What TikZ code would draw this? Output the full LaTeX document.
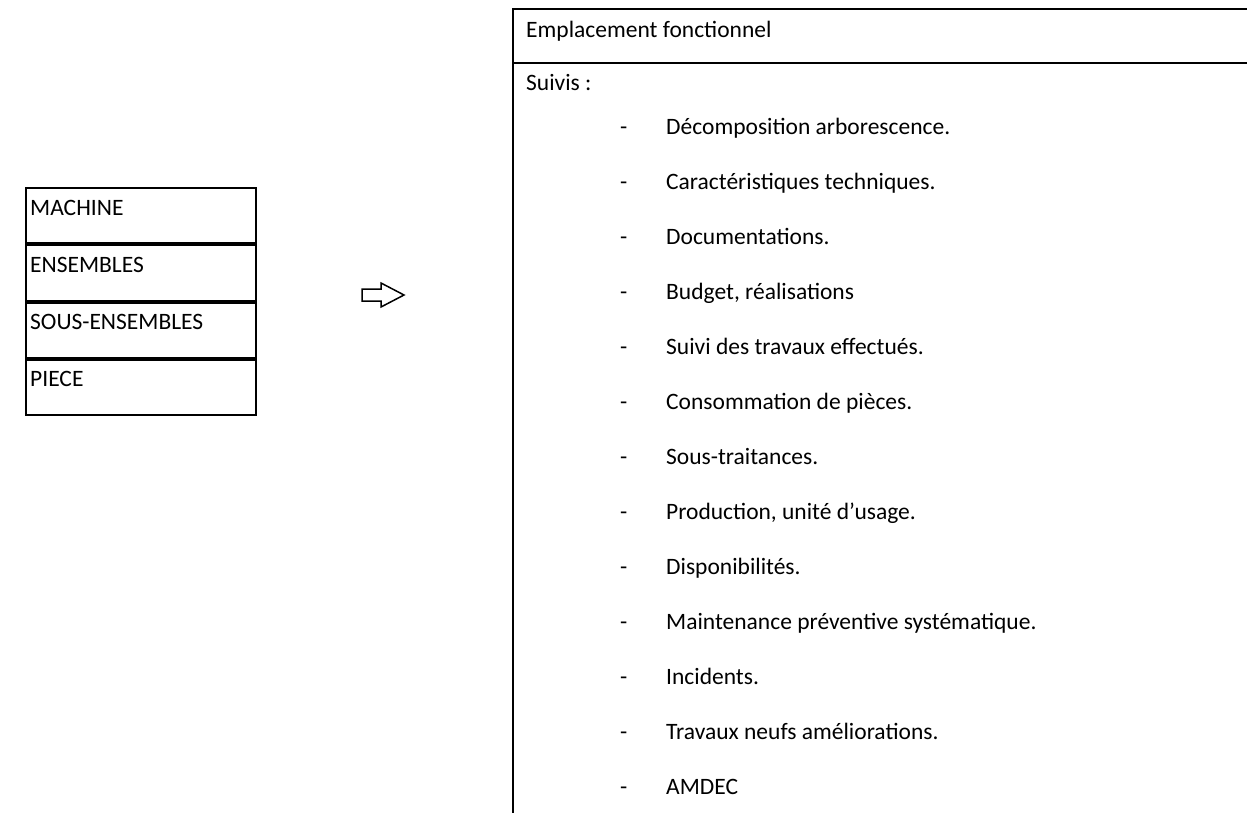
\documentclass[tikz,border=0pt]{standalone}
\usepackage{fontspec}
\setmainfont{Carlito}
\begin{document}
\begin{tikzpicture}[x=1pt,y=-1pt,
  rule/.style={draw=black,line width=2pt},
  cell/.style={rule,rectangle,anchor=north west,minimum width=230pt,minimum height=55.25pt,inner sep=0pt},
  lbl/.style={anchor=base west,inner sep=0pt,font=\fontsize{23.5}{28}\selectfont},
  hollowarrow/.style={draw=black,line width=1.5pt,line join=miter}]
\useasboundingbox (0,0) rectangle (1247,813);

% hierarchy table on the left
\node[cell] (machine) at (25,187) {};
\node[cell] (ensembles) at (machine.south west) {};
\node[cell] (sousens) at (ensembles.south west) {};
\node[cell] (piece) at (sousens.south west) {};
\node[lbl] (tmachine) at ([shift={(5,28)}]machine.north west) {MACHINE};
\node[lbl] (tensembles) at ([shift={(5,28)}]ensembles.north west) {ENSEMBLES};
\node[lbl] (tsousens) at ([shift={(5,28)}]sousens.north west) {SOUS-ENSEMBLES};
\node[lbl] (tpiece) at ([shift={(5,28)}]piece.north west) {PIECE};

% hollow arrow
\draw[hollowarrow] (362,289) -- (381,289) -- (381,283) -- (404,295)
  -- (381,307) -- (381,301) -- (362,301) -- cycle;

% open table on the right
\coordinate (tl) at (513,9);
\coordinate (tr) at (1247,9);
\coordinate (bl) at (513,813);
\coordinate (ml) at (513,63);
\coordinate (mr) at (1247,63);
\draw[rule] (tr) -- (tl) -- (bl);
\draw[rule] (ml) -- (mr);
\node[lbl] (head) at (526,38) {Emplacement fonctionnel};
\node[lbl] (suivis) at (526,91) {Suivis :};

\foreach \t [count=\k from 0] in {%
  Décomposition arborescence.,
  Caractéristiques techniques.,
  Documentations.,
  {Budget, réalisations},
  Suivi des travaux effectués.,
  Consommation de pièces.,
  Sous-traitances.,
  {Production, unité d’usage.},
  Disponibilités.,
  Maintenance préventive systématique.,
  Incidents.,
  Travaux neufs améliorations.,
  AMDEC}{
  \node[lbl] (dash\k) at (620,{134.5+55*\k}) {-};
  \node[lbl] (item\k) at (666,{134.5+55*\k}) {\t};
}
\end{tikzpicture}
\end{document}
